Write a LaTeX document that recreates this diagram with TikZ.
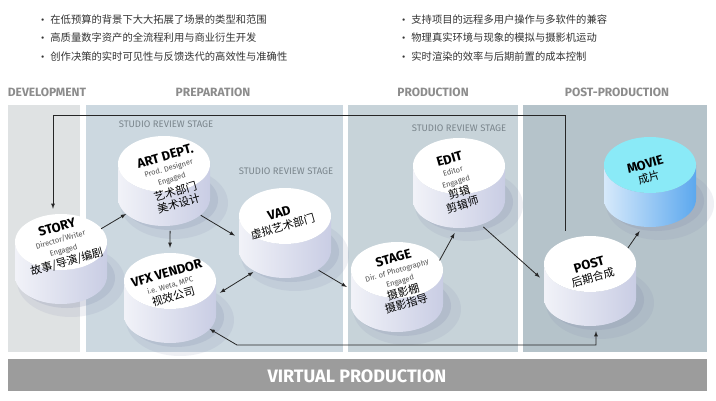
\documentclass[tikz,border=0pt]{standalone}
\usepackage{fontspec}
\setmainfont{Fira Sans}
\newfontfamily\cjk{Noto Sans CJK SC}
\usetikzlibrary{shapes.geometric}

\definecolor{devgray}{HTML}{DFE2E3}
\definecolor{prepblue}{HTML}{CCD8E0}
\definecolor{prodblue}{HTML}{C7D3D9}
\definecolor{postblue}{HTML}{B5C3CA}
\definecolor{headgray}{HTML}{8C8C8C}
\definecolor{stagegray}{HTML}{7A858C}
\definecolor{cylside}{HTML}{C9CDE4}
\definecolor{cylshadow}{HTML}{7E85AA}
\definecolor{movietop}{HTML}{8AEAF7}
\definecolor{movieside}{HTML}{5CA8EE}
\definecolor{bargray}{HTML}{9C9C9C}
\definecolor{rolegray}{HTML}{505050}

\newcommand\cname[1]{{\fontsize{13}{14}\selectfont\bfseries #1}}
\newcommand\crole[1]{{\fontsize{7.5}{8.5}\selectfont\color{rolegray}#1}}
\newcommand\czh[1]{{\cjk\fontsize{11}{13}\selectfont #1}}

% drum: name, x, y, top colour, side colour
\newcommand\drum[5]{%
  \fill [cylshadow, opacity=0.12] (#2+10,#3+22) ellipse [x radius=54, y radius=36];
  \fill [cylshadow, opacity=0.18] (#2+6,#3+19) ellipse [x radius=48, y radius=30];
  \shade [left color=#5!25, right color=#5] (#2-46,#3-17) -- (#2-46,#3+17)
    arc [start angle=180, end angle=0, x radius=46, y radius=28] -- (#2+46,#3-17)
    arc [start angle=0, end angle=180, x radius=46, y radius=28] -- cycle;
  \fill [#4] (#2,#3-17) ellipse [x radius=46, y radius=28];
  \node [drumnode] (#1) at (#2,#3) {};}

\begin{document}
\begin{tikzpicture}[x=1pt, y=-1pt, >=latex,
  drumnode/.style={circle, minimum size=100pt, inner sep=0pt},
  cyltxt/.style={align=center, rotate=16, inner sep=0pt},
  head/.style={font=\fontsize{12}{14}\selectfont\bfseries, text=headgray},
  review/.style={font=\fontsize{9.5}{11}\selectfont, text=stagegray},
  bul/.style={anchor=west, inner sep=0pt, text=black!80},
  arr/.style={->, draw=black!85, line width=0.8pt}]

\useasboundingbox (0,0) rectangle (716,400);
\fill [white] (0,0) rectangle (716,400);

% key points
\node [bul] (b1) at (41,20) {\textbullet\hspace{6pt}\cjk\fontsize{10.3}{12}\selectfont 在低预算的背景下大大拓展了场景的类型和范围};
\node [bul] (b2) at (41,38) {\textbullet\hspace{6pt}\cjk\fontsize{10.3}{12}\selectfont 高质量数字资产的全流程利用与商业衍生开发};
\node [bul] (b3) at (41,57) {\textbullet\hspace{6pt}\cjk\fontsize{10.3}{12}\selectfont 创作决策的实时可见性与反馈迭代的高效性与准确性};
\node [bul] (b4) at (402,20) {\textbullet\hspace{6pt}\cjk\fontsize{10.3}{12}\selectfont 支持项目的远程多用户操作与多软件的兼容};
\node [bul] (b5) at (402,38) {\textbullet\hspace{6pt}\cjk\fontsize{10.3}{12}\selectfont 物理真实环境与现象的模拟与摄影机运动};
\node [bul] (b6) at (402,57) {\textbullet\hspace{6pt}\cjk\fontsize{10.3}{12}\selectfont 实时渲染的效率与后期前置的成本控制};

% phases
\fill [devgray] (8,105) rectangle (80,352);
\fill [prepblue] (86,105) rectangle (343,352);
\fill [prodblue] (348,105) rectangle (518,352);
\fill [postblue] (523,105) rectangle (707,352);
\node [head] (h-dev) at (47,92) {DEVELOPMENT};
\node [head] (h-prep) at (213,92) {PREPARATION};
\node [head] (h-prod) at (433,92) {PRODUCTION};
\node [head] (h-post) at (617,92) {POST-PRODUCTION};
\node [review] (r-art) at (166,124) {STUDIO REVIEW STAGE};
\node [review] (r-vad) at (286,171) {STUDIO REVIEW STAGE};
\node [review] (r-edit) at (459,128) {STUDIO REVIEW STAGE};

% feedback loops
\coordinate (lt) at (53,115);
\coordinate (rt) at (565,115);
\coordinate (bl) at (237,345);
\coordinate (br) at (596,345);

% departments
\drum{story}{61}{259}{white}{cylside}
\drum{art}{164}{181}{white}{cylside}
\drum{vfx}{170}{298}{white}{cylside}
\drum{vad}{285}{233}{white}{cylside}
\drum{stage}{397}{287}{white}{cylside}
\drum{edit}{459}{183}{white}{cylside}
\drum{post}{590}{281}{white}{cylside}
\drum{movie}{650}{182}{movietop}{movieside}

\node [cyltxt] (story-t) at (62,245) {\cname{STORY}\\[-1pt]\crole{Director/Writer}\\[-1pt]\crole{Engaged}\\[1pt]\czh{故事/导演/编剧}};
\node [cyltxt] (art-t) at (172,180) {\cname{ART DEPT.}\\[-1pt]\crole{Prod. Designer}\\[-1pt]\crole{Engaged}\\[3pt]\czh{艺术部门}\\[0pt]\czh{美术设计}};
\node [cyltxt] (vfx-t) at (170,285) {\cname{VFX VENDOR}\\[-1pt]\crole{i.e. Weta, MPC}\\[1pt]\czh{视效公司}};
\node [cyltxt] (vad-t) at (281,220) {\cname{VAD}\\[1pt]\czh{虚拟艺术部门}};
\node [cyltxt] (stage-t) at (400,281) {\cname{STAGE}\\[-1pt]\crole{Dir. of Photography}\\[-1pt]\crole{Engaged}\\[1pt]\czh{摄影棚}\\[0pt]\czh{摄影指导}};
\node [cyltxt] (edit-t) at (456,182) {\cname{EDIT}\\[-1pt]\crole{Editor}\\[-1pt]\crole{Engaged}\\[1pt]\czh{剪辑}\\[0pt]\czh{剪辑师}};
\node [cyltxt] (post-t) at (591,271) {\cname{POST}\\[1pt]\czh{后期合成}};
\node [cyltxt] (movie-t) at (647,171) {\cname{MOVIE}\\[1pt]\czh{成片}};

% flow
\draw [arr] (story.37) -- (art.221);
\draw [arr] (art.-83) -- (vfx.90);
\draw [arr] (art.-43) -- (vad.183);
\draw [arr, <->] (vfx.6) -- (vad.231);
\draw [arr] (vad.-48) -- (stage.180);
\draw [arr] (stage.32) -- (edit.265);
\draw [arr] (edit.-61) -- (post.176);
\draw [arr] (post.41) -- (movie.258);
\draw [arr] (rt |- post.north) -- (rt) -- (lt) -- (lt |- story.north);
\draw [arr, <->] (vfx.-38) -- (bl) -- (br) -- (br |- post.south);

% virtual production bar
\fill [bargray] (8,359) rectangle (707,391);
\node [font=\fontsize{18}{20}\selectfont\bfseries, text=white] (vp) at (357,376) {VIRTUAL PRODUCTION};

\end{tikzpicture}
\end{document}
